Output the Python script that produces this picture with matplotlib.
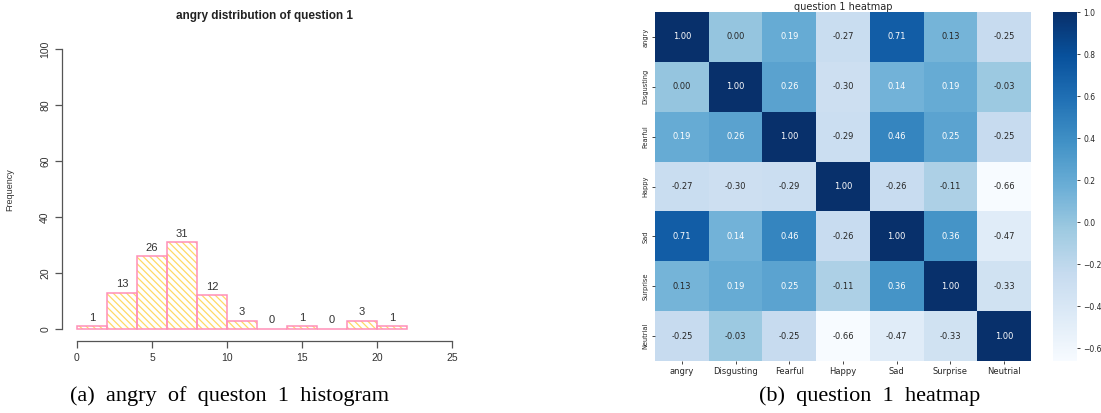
import numpy as np
import matplotlib
matplotlib.use("Agg")
import matplotlib.pyplot as plt
from matplotlib import colors as mcolors

# ---- histogram data ----
bin_edges = [0, 2, 4, 6, 8, 10, 12, 14, 16, 18, 20, 22]
counts = [1, 13, 26, 31, 12, 3, 0, 1, 0, 3, 1]
hist_xticks = [0, 5, 10, 15, 20, 25]
hist_yticks = [0, 20, 40, 60, 80, 100]

# ---- correlation heatmap data ----
emotions = ["angry", "Disgusting", "Fearful", "Happy", "Sad", "Surprise", "Neutrial"]
row_angry = [1.00, 0.00, 0.19, -0.27, 0.71, 0.13, -0.25]
row_disgusting = [0.00, 1.00, 0.26, -0.30, 0.14, 0.19, -0.03]
row_fearful = [0.19, 0.26, 1.00, -0.29, 0.46, 0.25, -0.25]
row_happy = [-0.27, -0.30, -0.29, 1.00, -0.26, -0.11, -0.66]
row_sad = [0.71, 0.14, 0.46, -0.26, 1.00, 0.36, -0.47]
row_surprise = [0.13, 0.19, 0.25, -0.11, 0.36, 1.00, -0.33]
row_neutrial = [-0.25, -0.03, -0.25, -0.66, -0.47, -0.33, 1.00]

W, H = 1101, 413
fig = plt.figure(figsize=(W / 100, H / 100), dpi=100)


def px_axes(x0, y0, x1, y1):
    """Axes from pixel box (left, top, right, bottom)."""
    return fig.add_axes([x0 / W, 1 - y1 / H, (x1 - x0) / W, (y1 - y0) / H])


# ================= histogram (left) =================
sans = ["Liberation Sans", "DejaVu Sans"]
ax = px_axes(62, 40, 462, 341)
ax.set_xlim(-1.0, (462 - 77) / 15.0)
ax.set_ylim(-(341 - 329) / 2.8, (329 - 40) / 2.8)

lefts = np.array(bin_edges[:-1], dtype=float)
widths = np.diff(bin_edges).astype(float)
plt.rcParams["hatch.linewidth"] = 0.9
# hatch shading in yellow, outline in pink
ax.bar(lefts, counts, width=widths, align="edge", fill=False,
       hatch="\\\\\\\\\\", edgecolor="#FFD966", linewidth=0)
ax.bar(lefts, counts, width=widths, align="edge", fill=False,
       edgecolor="#FF8FB8", linewidth=1.1)
for l, w, c in zip(lefts, widths, counts):
    ax.text(l + w / 2, c + 1.3, str(c), ha="center", va="bottom",
            fontsize=8, color="#333333", family=sans)

for s in ["top", "right"]:
    ax.spines[s].set_visible(False)
ax.spines["left"].set_bounds(0, 100)
ax.spines["bottom"].set_bounds(0, 25)
for s in ["left", "bottom"]:
    ax.spines[s].set_color("#555555")
    ax.spines[s].set_linewidth(0.9)
ax.set_xticks(hist_xticks)
ax.set_yticks(hist_yticks)
ax.tick_params(colors="#555555", length=5, width=0.9, labelsize=7.5,
               labelcolor="#333333")
for lab in ax.get_yticklabels():
    lab.set_rotation(90)
    lab.set_va("center")
    lab.set_family(sans)
for lab in ax.get_xticklabels():
    lab.set_family(sans)
ax.set_ylabel("Frequency", fontsize=6.5, color="#333333", family=sans)
ax.yaxis.set_label_coords(-0.12, (341 - 190) / (341 - 40))
fig.text(265 / W, 1 - 16 / H, "angry distribution of question 1",
         ha="center", va="center", fontsize=8.5, fontweight="bold",
         color="#222222", family=sans)

# ================= heatmap (right) =================
mat = np.array([row_angry, row_disgusting, row_fearful, row_happy,
                row_sad, row_surprise, row_neutrial])
n = len(emotions)
vmin, vmax = mat.min(), mat.max()
cmap = plt.get_cmap("Blues")
norm = mcolors.Normalize(vmin=vmin, vmax=vmax)

hax = px_axes(655, 12, 1031, 361)
mesh = hax.pcolormesh(np.arange(n + 1), np.arange(n + 1), mat,
                      cmap=cmap, norm=norm)
hax.set_xlim(0, n)
hax.set_ylim(n, 0)
for s in hax.spines.values():
    s.set_visible(False)


def rel_lum(rgb):
    c = np.array(rgb[:3])
    c = np.where(c <= 0.03928, c / 12.92, ((c + 0.055) / 1.055) ** 2.4)
    return 0.2126 * c[0] + 0.7152 * c[1] + 0.0722 * c[2]


for i in range(n):
    for j in range(n):
        v = mat[i, j]
        tc = "#262626" if rel_lum(cmap(norm(v))) > 0.408 else "white"
        hax.text(j + 0.5, i + 0.5, f"{v:.2f}", ha="center", va="center",
                 fontsize=6, color=tc, family="DejaVu Sans")

hax.set_xticks(np.arange(n) + 0.5)
hax.set_xticklabels(emotions, fontsize=6, color="#262626")
hax.set_yticks(np.arange(n) + 0.5)
hax.set_yticklabels(emotions, fontsize=4.8, color="#262626", rotation=90,
                    va="center")
hax.tick_params(length=2.5, width=0.6, colors="#262626", pad=2)
hax.set_title("question 1 heatmap", fontsize=7, color="#262626", pad=1.5)

cax = px_axes(1053, 12, 1077, 361)
cb = fig.colorbar(mesh, cax=cax)
cb.outline.set_visible(False)
cb.set_ticks([-0.6, -0.4, -0.2, 0.0, 0.2, 0.4, 0.6, 0.8, 1.0])
cax.tick_params(labelsize=5.5, length=2.5, width=0.6, colors="#262626", pad=2)

# ================= captions =================
serif = ["Liberation Serif", "DejaVu Serif"]
fig.text(230 / W, 1 - 396 / H, "(a)  angry  of  queston  1  histogram",
         ha="center", va="center", fontsize=16, family=serif, color="black")
fig.text(870 / W, 1 - 396 / H, "(b)  question  1  heatmap",
         ha="center", va="center", fontsize=16, family=serif, color="black")

fig.savefig("out.png", dpi=100, facecolor="white")
